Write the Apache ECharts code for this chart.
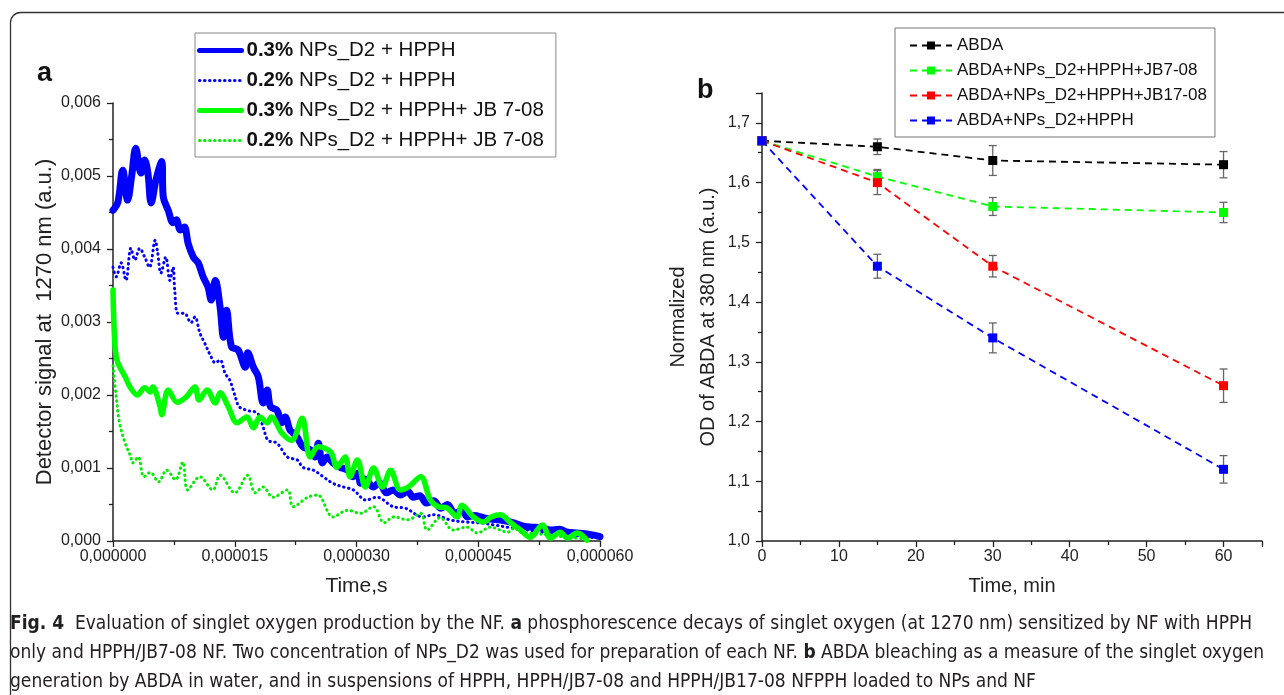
<!DOCTYPE html>
<html><head><meta charset="utf-8">
<script src="https://cdn.jsdelivr.net/npm/echarts@6/dist/echarts.min.js"></script>
<style>html,body{margin:0;padding:0;background:#fff}#c{width:1284px;height:695px}</style>
</head><body><div id="c"></div>
<script>
// ---- Panel a: time in microseconds, signal in a.u. ----
const blue03 = [[0,0.00453],[0.6,0.00464],[1.2,0.00508],[1.8,0.00467],[2.3,0.0050],[2.8,0.00538],[3.45,0.00504],[3.9,0.00522],[4.3,0.00504],[4.7,0.00463],[5.3,0.00495],[6.0,0.0052],[6.2,0.00471],[6.8,0.00453],[7.4,0.00436],[7.8,0.0044],[8.3,0.00426],[8.8,0.0043],[9.25,0.00408],[9.9,0.00389],[10.5,0.00381],[11.1,0.00362],[11.7,0.00348],[12.1,0.0033],[12.6,0.00357],[13.2,0.0032],[13.6,0.00279],[14.0,0.00316],[14.6,0.00266],[15.4,0.00262],[16.3,0.00238],[16.6,0.00258],[17.3,0.00238],[17.9,0.00225],[18.5,0.00189],[19.0,0.00207],[19.4,0.00184],[20.2,0.00179],[20.8,0.00162],[21.2,0.0017],[21.8,0.00152],[22.2,0.00148],[22.7,0.00142],[23.4,0.00129],[24.3,0.00125],[24.9,0.00115],[25.3,0.00134],[25.8,0.00107],[26.4,0.00115],[27.1,0.00107],[28.0,0.00101],[28.9,0.00097],[29.6,0.00088],[30.2,0.00093],[30.5,0.00079],[31.0,0.00085],[32.1,0.00074],[32.8,0.0008],[33.7,0.00066],[34.5,0.0007],[35.4,0.00063],[36.3,0.00068],[37.0,0.0006],[37.8,0.00062],[38.6,0.00052],[39.5,0.00055],[40.4,0.00045],[41.2,0.0005],[42.1,0.00038],[43.0,0.00042],[43.7,0.00033],[44.6,0.00035],[45.3,0.00033],[46.5,0.0003],[47.5,0.00029],[48.6,0.00027],[49.6,0.00024],[50.7,0.0002],[51.7,0.00019],[52.7,0.00018],[53.9,0.00015],[55.0,0.00016],[56.0,0.00012],[57.1,0.00011],[58.2,0.0001],[59.2,0.00008],[60,0.00006]];
const blue02 = [[0,0.00375],[0.4,0.00362],[1.0,0.00381],[1.6,0.00357],[2.2,0.00401],[2.7,0.00385],[3.3,0.00401],[3.9,0.00389],[4.5,0.00375],[5.2,0.00412],[5.5,0.00395],[5.9,0.00367],[6.5,0.00389],[7.0,0.00357],[7.4,0.00375],[7.6,0.00344],[8.0,0.00312],[8.8,0.00312],[9.6,0.00299],[10.1,0.00307],[10.7,0.00285],[11.3,0.00271],[12.1,0.00252],[12.6,0.00244],[13.2,0.00248],[13.8,0.0023],[14.4,0.0022],[14.8,0.00207],[15.3,0.00189],[15.5,0.00184],[16.5,0.00179],[17.8,0.00175],[18.5,0.00156],[19.1,0.00138],[20.2,0.00134],[21.5,0.00115],[22.7,0.00111],[23.4,0.00101],[24.7,0.00097],[25.9,0.00088],[27.1,0.00079],[28.4,0.00074],[29.6,0.0007],[31.2,0.00056],[32.5,0.0006],[34.5,0.00047],[36.0,0.00045],[38.2,0.00033],[39.5,0.00036],[41.5,0.00029],[43.5,0.00026],[45.0,0.00025],[47.0,0.00022],[49.0,0.00018],[51.0,0.00015],[53.0,0.00012],[55.0,0.0001],[57.0,0.00008],[59.0,0.00005],[60,0.00004]];
const green03 = [[0,0.00344],[0.25,0.00266],[0.6,0.00244],[1.5,0.00225],[2.1,0.00211],[3.0,0.002],[3.9,0.0021],[4.6,0.00204],[4.9,0.00211],[5.8,0.00184],[6.0,0.00173],[6.8,0.00207],[7.9,0.0019],[9.0,0.00197],[10.1,0.00211],[10.6,0.00193],[11.6,0.00207],[12.6,0.00189],[13.2,0.00203],[14.2,0.00184],[15.3,0.00162],[16.5,0.0017],[17.3,0.00155],[18.1,0.0017],[19.0,0.00162],[19.5,0.0017],[20.8,0.00148],[22.0,0.00138],[23.3,0.00168],[24.3,0.00115],[25.3,0.00129],[26.8,0.00122],[27.6,0.00101],[28.6,0.00115],[29.2,0.00088],[30.1,0.00111],[31.1,0.00074],[32.1,0.001],[33.2,0.00074],[34.2,0.00097],[35.4,0.0007],[36.4,0.00074],[37.9,0.00088],[39.1,0.00056],[40.1,0.00047],[41.2,0.00045],[42.4,0.00033],[43.0,0.00049],[44.4,0.00033],[45.6,0.00026],[46.6,0.00033],[47.7,0.00036],[49.0,0.00025],[50.2,0.00015],[51.4,0.00005],[52.9,0.00022],[53.9,0.00004],[55.1,0.00012],[56.0,0.00004],[57.2,0.00011],[58.4,0.00001]];
const green02 = [[0,0.0024],[0.4,0.00197],[0.8,0.00162],[1.5,0.00134],[2.2,0.00115],[2.4,0.00107],[3.1,0.00115],[3.8,0.00088],[4.6,0.00094],[5.6,0.00081],[6.6,0.00097],[7.7,0.00084],[8.6,0.00108],[9.2,0.0007],[10.7,0.00088],[12.3,0.0007],[13.2,0.0009],[15.0,0.00066],[16.6,0.0009],[17.5,0.00066],[18.5,0.00074],[19.7,0.0006],[21.5,0.0007],[22.2,0.00047],[24.0,0.0006],[25.2,0.00063],[27.1,0.00033],[28.9,0.00042],[30.5,0.00038],[32.1,0.00047],[33.4,0.00025],[34.6,0.00033],[36.3,0.00029],[37.9,0.00038],[38.7,0.00015],[40.3,0.00032],[41.9,0.00015],[43.6,0.00019],[44.9,0.00011],[46.5,0.00019],[47.7,0.00015],[48.6,0.00012],[49.5,0.00018],[50.2,0.00012],[52,0.0001],[54,0.00008],[56,0.00005],[58,0.00003]];
const namesA = ['0.3% NPs_D2 + HPPH','0.2% NPs_D2 + HPPH','0.3% NPs_D2 + HPPH+ JB 7-08','0.2% NPs_D2 + HPPH+ JB 7-08'];

// ---- Panel b ----
const timesB = [0, 15, 30, 60];
const abda = [1.67, 1.66, 1.637, 1.63];
const abdaErr = [0, 0.013, 0.025, 0.022];
const jb7 = [1.67, 1.61, 1.56, 1.55];
const jb7Err = [0, 0.012, 0.015, 0.017];
const jb17 = [1.67, 1.60, 1.46, 1.26];
const jb17Err = [0, 0.02, 0.018, 0.028];
const hpph = [1.67, 1.46, 1.34, 1.12];
const hpphErr = [0, 0.02, 0.025, 0.023];
const namesB = ['ABDA','ABDA+NPs_D2+HPPH+JB7-08','ABDA+NPs_D2+HPPH+JB17-08','ABDA+NPs_D2+HPPH'];

const FONT = '"Liberation Sans", Arial, sans-serif';
const CAPFONT = '"Liberation Sans Narrow", "DejaVu Sans Condensed", "Liberation Sans", sans-serif';
const chart = echarts.init(document.getElementById('c'));

function axisCommon(nameSize, labelMargin) {
  return {
    axisLine: {show: true, lineStyle: {color: '#222', width: 1.5}},
    axisTick: {show: true, inside: false, length: 6, lineStyle: {color: '#222', width: 1.3}},
    minorTick: {show: true, splitNumber: 2, length: 4, lineStyle: {color: '#222', width: 1.3}},
    splitLine: {show: false},
    axisLabel: {color: '#222', fontSize: 16, fontFamily: FONT, margin: labelMargin},
    nameTextStyle: {color: '#222', fontSize: nameSize, fontFamily: FONT}
  };
}
const xa0 = Object.assign(axisCommon(21, 8), {gridIndex: 0, type: 'value', min: 0, max: 60, interval: 15,
  name: 'Time,s', nameLocation: 'middle', nameGap: 35});
xa0.axisLabel.formatter = v => (v * 1e-6).toFixed(6).replace('.', ',');
const ya0 = Object.assign(axisCommon(22, 12), {gridIndex: 0, type: 'value', min: 0, max: 0.006, interval: 0.001,
  name: 'Detector signal at  1270 nm (a.u.)', nameLocation: 'middle', nameGap: 57});
ya0.axisLabel.formatter = v => v.toFixed(3).replace('.', ',');
const xa1 = Object.assign(axisCommon(20, 8), {gridIndex: 1, type: 'value', min: 0, max: 65, interval: 10,
  name: 'Time, min', nameLocation: 'middle', nameGap: 35});
xa1.axisLabel.showMaxLabel = false;
const ya1 = Object.assign(axisCommon(20, 12), {gridIndex: 1, type: 'value', min: 1.0, max: 1.75, interval: 0.1,
  name: 'Normalized\nOD of ABDA at 380 nm (a.u.)', nameLocation: 'middle', nameGap: 37});
ya1.axisLabel.showMaxLabel = false;
ya1.axisLabel.formatter = v => v.toFixed(1).replace('.', ',');
ya1.nameTextStyle.lineHeight = 30;

function errSeries(name, vals, errs) {
  return {
    type: 'custom', xAxisIndex: 1, yAxisIndex: 1, z: 3, silent: true,
    data: timesB.map((t, i) => [t, vals[i] - errs[i], vals[i] + errs[i]]).filter((d, i) => errs[i] > 0),
    renderItem: (params, api) => {
      const top = api.coord([api.value(0), api.value(2)]);
      const bot = api.coord([api.value(0), api.value(1)]);
      const w = 4;
      const st = {stroke: '#666', lineWidth: 1.3};
      return {type: 'group', children: [
        {type: 'line', shape: {x1: top[0], y1: top[1], x2: bot[0], y2: bot[1]}, style: st},
        {type: 'line', shape: {x1: top[0] - w, y1: top[1], x2: top[0] + w, y2: top[1]}, style: st},
        {type: 'line', shape: {x1: bot[0] - w, y1: bot[1], x2: bot[0] + w, y2: bot[1]}, style: st}
      ]};
    }
  };
}
function lineB(name, vals, color) {
  return {
    name, type: 'line', xAxisIndex: 1, yAxisIndex: 1, z: 4,
    data: timesB.map((t, i) => [t, vals[i]]),
    symbol: 'rect', symbolSize: 9, showSymbol: true,
    itemStyle: {color},
    lineStyle: {color, width: 1.8, type: [7, 5]}
  };
}
function lineA(name, data, color, width, dotted) {
  return {
    name, type: 'line', xAxisIndex: 0, yAxisIndex: 0, data, symbol: 'none', smooth: 0.35,
    lineStyle: {color, width, type: dotted ? [0.5, 4.5] : 'solid', cap: 'round', join: 'round'},
    itemStyle: {color}
  };
}

const option = {
  animation: false,
  backgroundColor: '#fff',
  textStyle: {fontFamily: FONT},
  grid: [
    {left: 113, right: 684, top: 103, bottom: 154},
    {left: 762, right: 22, top: 93, bottom: 154}
  ],
  xAxis: [xa0, xa1],
  yAxis: [ya0, ya1],
  legend: [
    {
      data: [
        {name: namesA[0], lineStyle: {width: 5}},
        {name: namesA[1], lineStyle: {width: 3}},
        {name: namesA[2], lineStyle: {width: 5}},
        {name: namesA[3], lineStyle: {width: 3}}
      ],
      orient: 'vertical', left: 195, top: 33,
      backgroundColor: '#fff', borderColor: '#888', borderWidth: 1, padding: [7, 12, 6, 2],
      itemWidth: 42, itemHeight: 12, itemGap: 9,
      itemStyle: {opacity: 0},
      textStyle: {color: '#111', fontSize: 20.5, fontFamily: FONT, rich: {b: {fontWeight: 'bold', fontSize: 20.5, fontFamily: FONT, color: '#111'}}},
      formatter: n => { const i = n.indexOf(' '); return '{b|' + n.slice(0, i) + '}' + n.slice(i); }
    },
    {
      data: namesB, orient: 'vertical', left: 895, top: 28,
      backgroundColor: '#fff', borderColor: '#777', borderWidth: 1, padding: [9, 8, 8, 14],
      itemWidth: 42, itemHeight: 10, itemGap: 8,
      textStyle: {color: '#111', fontSize: 17, fontFamily: FONT}
    }
  ],
  series: [
    lineA(namesA[0], blue03, '#0000ff', 7, false),
    lineA(namesA[1], blue02, '#0000ff', 3, true),
    lineA(namesA[2], green03, '#00ff00', 5.5, false),
    lineA(namesA[3], green02, '#00ee00', 3, true),
    errSeries(namesB[0], abda, abdaErr),
    errSeries(namesB[1], jb7, jb7Err),
    errSeries(namesB[2], jb17, jb17Err),
    errSeries(namesB[3], hpph, hpphErr),
    lineB(namesB[0], abda, '#000000'),
    lineB(namesB[1], jb7, '#00ff00'),
    lineB(namesB[2], jb17, '#ff0000'),
    lineB(namesB[3], hpph, '#0000ff')
  ],
  graphic: [
    {type: 'rect', z: 100, silent: true, shape: {x: 10.5, y: 12.5, width: 1320, height: 740, r: 10},
     style: {fill: 'none', stroke: '#333', lineWidth: 1.3}},
    {type: 'text', left: 37, top: 60, style: {text: 'a', font: 'bold 27px ' + FONT, fill: '#111'}},
    {type: 'text', left: 697, top: 77, style: {text: 'b', font: 'bold 27px ' + FONT, fill: '#111'}},
    {type: 'text', left: 10, top: 610, style: {
      text: '{b|Fig. 4}  Evaluation of singlet oxygen production by the NF. {b|a} phosphorescence decays of singlet oxygen (at 1270 nm) sensitized by NF with HPPH\nonly and HPPH/JB7-08 NF. Two concentration of NPs_D2 was used for preparation of each NF. {b|b} ABDA bleaching as a measure of the singlet oxygen\ngeneration by ABDA in water, and in suspensions of HPPH, HPPH/JB7-08 and HPPH/JB17-08 NFPPH loaded to NPs and NF',
      font: '19px ' + CAPFONT,
      fill: '#231f20', lineHeight: 29,
      rich: {b: {fontWeight: 'bold', fontSize: 19, fontFamily: CAPFONT, fill: '#231f20', lineHeight: 29}}
    }}
  ]
};
chart.setOption(option);
</script></body></html>
